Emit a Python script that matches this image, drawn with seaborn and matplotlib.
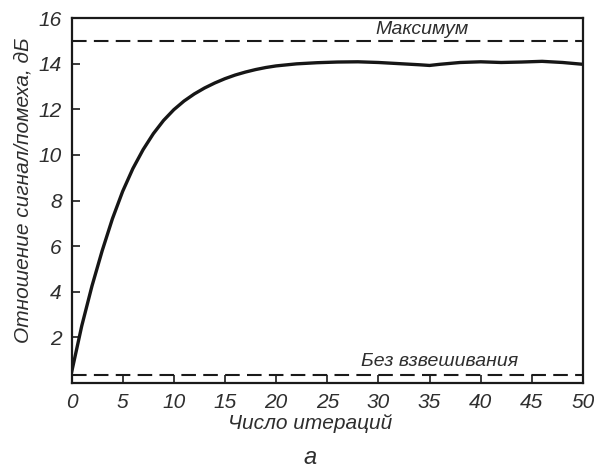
import matplotlib
matplotlib.use("Agg")
import matplotlib.pyplot as plt
import seaborn as sns
import pandas as pd

# Adaptive array convergence: SNR versus iteration number
iterations = [0, 1, 2, 3, 4, 5, 6, 7, 8, 9, 10, 11, 12, 13, 14, 15, 16, 17, 18, 19,
              20, 22, 24, 26, 28, 30, 32, 34, 35, 36, 38, 40, 42, 44, 46, 48, 50]
snr_db = [0.45, 2.5, 4.25, 5.8, 7.2, 8.4, 9.4, 10.23, 10.93, 11.51, 11.98, 12.36, 12.67,
          12.93, 13.15, 13.34, 13.5, 13.63, 13.74, 13.83, 13.9, 13.99, 14.04, 14.07, 14.08,
          14.05, 14.0, 13.95, 13.92, 13.97, 14.05, 14.08, 14.05, 14.07, 14.1, 14.05, 13.97]
max_snr = 15.0
unweighted_snr = 0.35

x_ticks = [0, 5, 10, 15, 20, 25, 30, 35, 40, 45, 50]
y_ticks = [2, 4, 6, 8, 10, 12, 14, 16]

x_label = "Число итераций"
y_label = "Отношение сигнал/помеха, дБ"
max_text = "Максимум"
unweighted_text = "Без взвешивания"
panel_text = "а"

sns.set_theme(style="ticks")
fam = ["Liberation Sans", "DejaVu Sans"]
plt.rcParams["font.family"] = fam
plt.rcParams["font.style"] = "italic"

ink = "#1a1a1a"
txt = "#2e2e2e"

fig = plt.figure(figsize=(5.94, 4.69), dpi=100)
ax = fig.add_axes([71.5 / 594, 1 - 383 / 469, 511.5 / 594, 365 / 469])

df = pd.DataFrame({"iter": iterations, "snr": snr_db})
sns.lineplot(data=df, x="iter", y="snr", ax=ax, color="#161616", linewidth=2.4)

ax.axhline(max_snr, color=ink, linewidth=1.5, linestyle=(0, (7, 3.5)))
ax.axhline(unweighted_snr, color=ink, linewidth=1.5, linestyle=(0, (7, 3.5)))

ax.set_xlim(0, 50)
ax.set_ylim(0, 16)
ax.set_xticks(x_ticks)
ax.set_yticks(y_ticks)
ax.set_xticklabels([str(v) for v in x_ticks])
ax.set_yticklabels([str(v) for v in y_ticks])

for s in ax.spines.values():
    s.set_visible(True)
    s.set_linewidth(1.6)
    s.set_color(ink)

ax.tick_params(axis="both", direction="in", length=6, width=1.2, color=ink,
               labelsize=15, labelcolor=txt, pad=7)

ax.set_xlabel(x_label, fontsize=15, color=txt, style="italic")
ax.set_ylabel(y_label, fontsize=15, color=txt, style="italic")
ax.xaxis.set_label_coords((310 - 71.5) / 511.5, -0.085)
ax.yaxis.set_label_coords(-0.077, 0.527)

ax.text(34.3, 15.5, max_text, ha="center", va="center", fontsize=14,
        color=txt, style="italic")
ax.text(36.0, 0.95, unweighted_text, ha="center", va="center", fontsize=14,
        color=txt, style="italic")

fig.text(310 / 594, 1 - 457 / 469, panel_text, ha="center", va="center",
         fontsize=17, color=txt, style="italic")

fig.savefig("out.png", dpi=100, facecolor="white")
